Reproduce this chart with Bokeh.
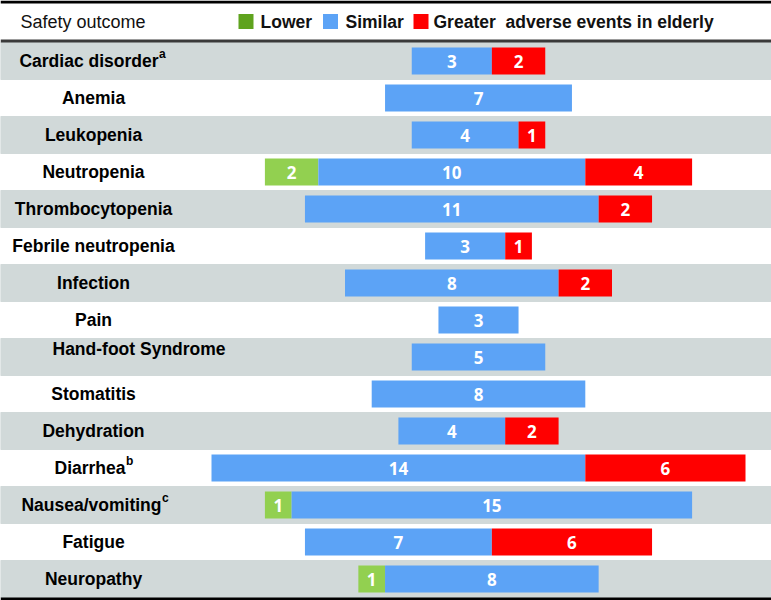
import numpy as np
from bokeh.plotting import figure
from bokeh.models import Range1d, Span
from bokeh.core.properties import value
from bokeh.embed import file_html
from bokeh.resources import INLINE

# ---------------- data ----------------
outcomes = ["Cardiac disorder", "Anemia", "Leukopenia", "Neutropenia", "Thrombocytopenia",
            "Febrile neutropenia", "Infection", "Pain", "Hand-foot Syndrome", "Stomatitis",
            "Dehydration", "Diarrhea", "Nausea/vomiting", "Fatigue", "Neuropathy"]
footnotes = ["a", "", "", "", "", "", "", "", "", "", "", "b", "c", "", ""]
lower = [0, 0, 0, 2, 0, 0, 0, 0, 0, 0, 0, 0, 1, 0, 1]
similar = [3, 7, 4, 10, 11, 3, 8, 3, 5, 8, 4, 14, 15, 7, 8]
greater = [2, 0, 1, 4, 2, 1, 2, 0, 0, 0, 2, 6, 0, 6, 0]
legend_labels = ["Lower", "Similar", "Greater\u00a0 adverse events in elderly"]
header_label = "Safety outcome"

# ---------------- styles ----------------
BAR_COLORS = ["#92D050", "#5CA3F6", "#FF0000"]
LEGEND_COLORS = ["#5FA31E", "#5CA3F6", "#FF0000"]
BAND = "#D1D9D9"
ARIAL = value("Liberation Sans")
NUMFONT = value("Open Sans")
SUP_LABEL_END = {"a": 158, "b": 125, "c": 161}   # px where footnoted labels end

W, H = 771, 600
U = 26.7      # px per count
CX = 478      # bar centre (px)
ROW0 = 42     # top of first row (px)
ROWEND = 597  # bottom of last row (px)
n = len(outcomes)
P = (ROWEND - ROW0) / n


def px_x(px):
    return (px - CX) / U


def px_y(py):
    return -0.5 + (py - ROW0) / P


p = figure(width=W, height=H, output_backend="svg", toolbar_location=None,
           x_range=Range1d(px_x(0), px_x(W)), y_range=Range1d(px_y(H), px_y(0)),
           min_border=0)
p.axis.visible = False
p.grid.visible = False
p.outline_line_color = None
p.background_fill_color = "white"

idx = np.arange(n)

# alternating bands
band_rows = idx[idx % 2 == 0]
p.hbar(y=band_rows, left=px_x(0), right=px_x(W), height=1.0, color=BAND)

# stacked, centred bars
lo = np.array(lower, float)
si = np.array(similar, float)
gr = np.array(greater, float)
tot = lo + si + gr
start = -tot / 2
segs = [(start, start + lo, lo), (start + lo, start + lo + si, si), (start + lo + si, start + tot, gr)]
bar_h = 27 / P
num_x, num_y, num_t = [], [], []
for (l, r, v), c in zip(segs, BAR_COLORS):
    m = v > 0
    p.hbar(y=idx[m], left=l[m], right=r[m], height=bar_h, fill_color=c, line_color=None)
    for yy, ll, rr, vv in zip(idx[m], l[m], r[m], v[m]):
        num_x.append((ll + rr) / 2)
        num_y.append(yy)
        num_t.append(str(int(vv)))
p.text(x=num_x, y=num_y, text=num_t, text_color="white", text_font=NUMFONT,
       text_font_style="bold", text_font_size="17px", text_align="center",
       text_baseline="middle")

# row labels
cx, cy, ct = [], [], []
rx, ry, rt = [], [], []
sx, sy, st = [], [], []
lx, ly, lt = [], [], []
for i, (name, fn) in enumerate(zip(outcomes, footnotes)):
    if fn:
        end = SUP_LABEL_END[fn]
        rx.append(px_x(end)); ry.append(i); rt.append(name)
        sx.append(px_x(end + 0.5)); sy.append(i - 7 / P); st.append(fn)
    elif name == "Hand-foot Syndrome":
        lx.append(px_x(52)); ly.append(i - 8 / P); lt.append(name)
    else:
        cx.append(px_x(93)); cy.append(i); ct.append(name)
common = dict(text_color="black", text_font=ARIAL, text_font_style="bold",
              text_font_size="17.5px", text_baseline="middle")
p.text(x=cx, y=cy, text=ct, text_align="center", **common)
p.text(x=rx, y=ry, text=rt, text_align="right", **common)
p.text(x=lx, y=ly, text=lt, text_align="left", **common)
p.text(x=sx, y=sy, text=st, text_align="left", text_color="black", text_font=ARIAL,
       text_font_style="bold", text_font_size="12px", text_baseline="middle")

# header
hy = px_y(21)
p.text(x=[px_x(20)], y=[hy], text=[header_label], text_font=ARIAL, text_font_size="18px",
       text_baseline="middle", text_align="left", text_color="#111111")
sq_px = [245.5, 330, 420.5]
tx_px = [260, 345, 433]
p.scatter(x=[px_x(v) for v in sq_px], y=[hy] * 3, marker="square", size=15,
          fill_color=LEGEND_COLORS, line_color=None)
p.text(x=[px_x(v) for v in tx_px], y=[hy] * 3, text=legend_labels, text_font=ARIAL,
       text_font_style="bold", text_font_size="17.5px", text_baseline="middle",
       text_align="left", text_color="#111111")

# rules
p.add_layout(Span(location=px_y(1.5), dimension="width", line_color="black", line_width=3))
p.add_layout(Span(location=px_y(ROW0 - 1.5), dimension="width", line_color="#3a3a3a", line_width=3))
p.add_layout(Span(location=px_y(H - 1.5), dimension="width", line_color="black", line_width=3))

open("out.html", "w").write(file_html(p, INLINE))
